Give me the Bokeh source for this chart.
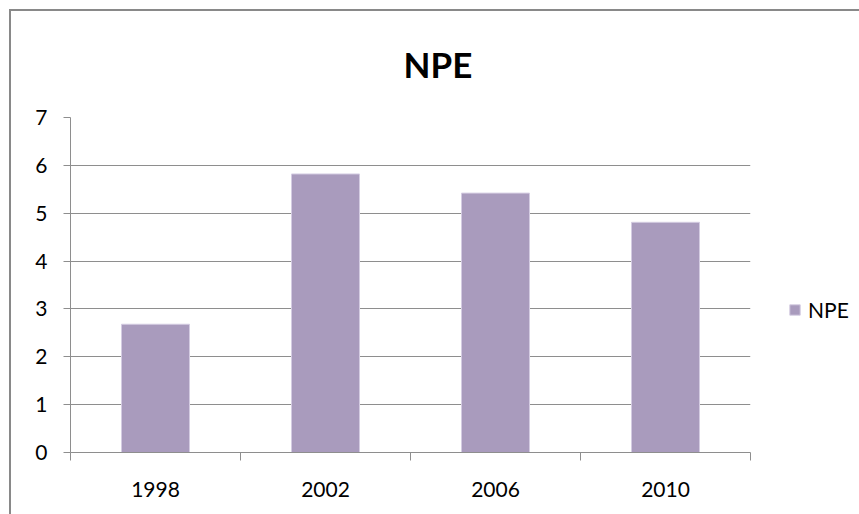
from bokeh.plotting import figure
from bokeh.models import (LinearAxis, CategoricalAxis, FixedTicker,
                          Legend, LegendItem, Title)
from bokeh.embed import file_html
from bokeh.resources import INLINE

years = ["1998", "2002", "2006", "2010"]
npe = [2.68, 5.82, 5.42, 4.81]
y_ticks = [0, 1, 2, 3, 4, 5, 6, 7]
# category boundaries (synthetic coordinates of the factor range)
x_bounds = [0, 1, 2, 3, 4]

FONT = "Lato"
GRID = "#8E8E8E"
BAR = "#A99BBD"

p = figure(x_range=years, y_range=(0, 7), frame_width=680, frame_height=335,
           min_border_left=59, min_border_top=99, min_border_right=105,
           min_border_bottom=64, output_backend="svg", toolbar_location=None,
           x_axis_location=None, y_axis_location=None)
p.styles = {"border-left": "2px solid #898989", "border-top": "2px solid #898989",
            "margin-left": "9px", "margin-top": "9px"}
p.outline_line_color = None
p.background_fill_color = "white"
p.border_fill_color = "white"

# title
p.title = Title(text="NPE", align="left", vertical_align="top", text_font=FONT,
                text_font_size="35px", text_font_style="bold",
                text_line_height=0.75,
                text_color="#000000", standoff=62, offset=333)

# bars
r = p.vbar(x=years, top=npe, width=0.4, fill_color=BAR,
           line_color="#D4CCE2", line_width=1)

# y axis
yax = LinearAxis(ticker=FixedTicker(ticks=y_ticks))
yax.axis_line_color = GRID
yax.major_tick_line_color = GRID
yax.major_tick_out = 7
yax.major_tick_in = 0
yax.minor_tick_line_color = None
yax.major_label_text_font = FONT
yax.major_label_text_font_size = "21px"
yax.major_label_text_color = "#000000"
yax.major_label_standoff = 16
p.add_layout(yax, "left")

# grid
p.xgrid.visible = False
p.ygrid.ticker = FixedTicker(ticks=y_ticks)
p.ygrid.grid_line_color = GRID
p.ygrid.grid_line_width = 1

# x axis with boundary ticks (no labels)
bax = LinearAxis(ticker=FixedTicker(ticks=x_bounds))
bax.axis_line_color = GRID
bax.major_tick_line_color = GRID
bax.major_tick_out = 8
bax.major_tick_in = 0
bax.minor_tick_line_color = None
bax.major_label_overrides = {t: "" for t in x_bounds}
bax.major_label_text_color = None
bax.major_label_text_font_size = "1px"
bax.major_label_standoff = 0
p.add_layout(bax, "below")

cax = CategoricalAxis()
cax.axis_line_color = None
cax.major_tick_line_color = None
cax.major_tick_out = 0
cax.major_label_text_font = FONT
cax.major_label_text_font_size = "21px"
cax.major_label_text_color = "#000000"
cax.major_label_standoff = 21
p.add_layout(cax, "below")

# legend
legend = Legend(items=[LegendItem(label="NPE", renderers=[r])],
                location=(38, 130), padding=0, margin=0,
                border_line_color=None, background_fill_alpha=0,
                glyph_width=13, glyph_height=13, label_standoff=7,
                label_text_font=FONT, label_text_font_size="21px",
                label_text_color="#000000", label_height=13)
p.add_layout(legend, "right")

open("out.html", "w").write(file_html(p, INLINE))
